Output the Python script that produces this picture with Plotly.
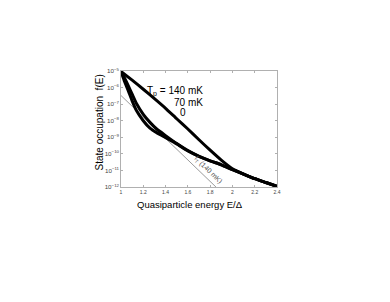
import plotly.graph_objects as go

# Quasiparticle energy E/Δ and log10 of state occupation f(E)
x_140 = [1.0, 1.1, 1.2, 1.3, 1.4, 1.5, 1.6, 1.7, 1.8, 1.9, 2.0, 2.1, 2.2, 2.3, 2.4]
logf_140 = [-5.03, -5.55, -6.1, -6.67, -7.25, -7.88, -8.5, -9.15, -9.78, -10.38, -10.9, -11.22, -11.5, -11.73, -11.96]

x_70 = [1.0, 1.03, 1.066, 1.1, 1.14, 1.2, 1.26, 1.32, 1.4, 1.5, 1.6, 1.7, 1.8, 1.9, 2.0, 2.1, 2.2, 2.3, 2.4]
logf_70 = [-5.03, -5.4, -5.9, -6.4, -6.98, -7.62, -8.1, -8.5, -8.9, -9.38, -9.8, -10.15, -10.42, -10.66, -10.95, -11.22, -11.5, -11.73, -11.96]

x_0 = [1.0, 1.03, 1.066, 1.1, 1.14, 1.2, 1.26, 1.32, 1.4, 1.5, 1.6, 1.7, 1.8, 1.9, 2.0, 2.1, 2.2, 2.3, 2.4]
logf_0 = [-5.03, -5.6, -6.2, -6.8, -7.4, -8.0, -8.45, -8.72, -9.02, -9.4, -9.82, -10.15, -10.42, -10.66, -10.95, -11.22, -11.5, -11.73, -11.96]

# thermal distribution at 140 mK
x_thermal = [1.0, 1.852]
logf_thermal = [-6.48, -12.0]

x_ticks = [1, 1.2, 1.4, 1.6, 1.8, 2, 2.2, 2.4]
x_ticklabels = ["1", "1.2", "1.4", "1.6", "1.8", "2", "2.2", "2.4"]

fig = go.Figure()
fig.add_trace(go.Scatter(x=x_thermal, y=[10 ** v for v in logf_thermal], mode="lines",
                         line=dict(color="#9a9a9a", width=1), showlegend=False))
for xs, ys in [(x_140, logf_140), (x_70, logf_70), (x_0, logf_0)]:
    fig.add_trace(go.Scatter(x=xs, y=[10 ** v for v in ys], mode="lines",
                             line=dict(color="black", width=3, shape="spline", smoothing=0.4),
                             showlegend=False))

font = "Liberation Sans, Arial, sans-serif"
ann = dict(xref="x", yref="y", showarrow=False, font=dict(family=font, size=10, color="black"))
fig.add_annotation(x=1.754, y=-6.25, text="T<sub>p</sub> = 140 mK", xanchor="right", **ann)
fig.add_annotation(x=1.754, y=-6.89, text="70 mK", xanchor="right", **ann)
fig.add_annotation(x=1.557, y=-7.51, text="0", xanchor="center", **ann)
fig.add_annotation(x=1.78, y=-11.0, text="f<sub>T</sub> (140 mK)", textangle=44,
                   xref="x", yref="y", showarrow=False,
                   font=dict(family=font, size=7, color="#555"))

# axis titles
fig.add_annotation(x=0.44, y=-0.155, xref="paper", yref="paper", showarrow=False,
                   text="Quasiparticle energy E/Δ", xanchor="center", yanchor="middle",
                   font=dict(family=font, size=9.5, color="black"))
fig.add_annotation(x=-0.135, y=0.556, xref="paper", yref="paper", showarrow=False,
                   text="State occupation  f(E)", textangle=-90, xanchor="center", yanchor="middle",
                   font=dict(family=font, size=10, color="black"))

axis_common = dict(showline=True, linecolor="#b0b0b0", linewidth=1, mirror="ticks",
                   ticks="inside", ticklen=2, tickcolor="#b0b0b0", showgrid=False,
                   zeroline=False, automargin=False,
                   tickfont=dict(family=font, size=5, color="#444"))
fig.update_xaxes(range=[1, 2.4], tickvals=x_ticks, ticktext=x_ticklabels, **axis_common)
fig.update_yaxes(type="log", range=[-12, -5], dtick=1, exponentformat="power", **axis_common)
fig.update_layout(width=390, height=302, margin=dict(l=113, r=121, t=63, b=123),
                  paper_bgcolor="white", plot_bgcolor="white")
fig.write_html("out.html")
